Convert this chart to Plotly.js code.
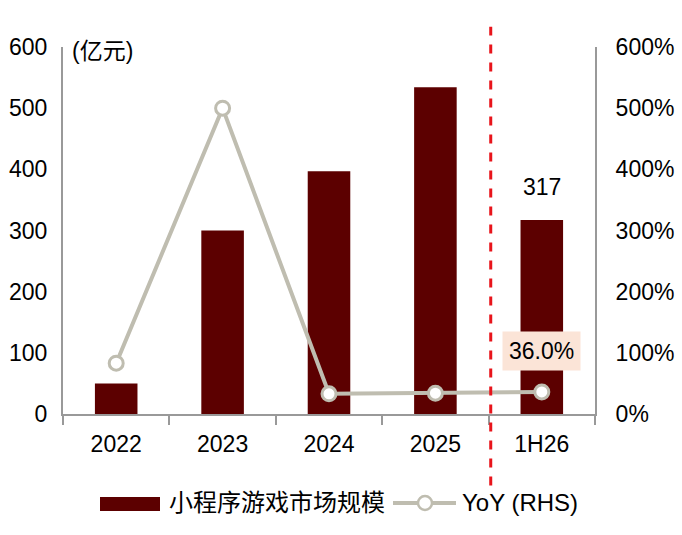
<!DOCTYPE html>
<html>
<head>
<meta charset="utf-8">
<script src="https://cdn.plot.ly/plotly-3.0.1.min.js"></script>
<style>html,body{margin:0;padding:0;background:#fff;}#chart{width:682px;height:535px;}</style>
</head>
<body>
<div id="chart"></div>
<script>
const categories = ["2022", "2023", "2024", "2025", "1H26"];
const marketSize = [50, 300, 397, 534, 317];
const yoy = [83, 500, 33, 34, 36];
const leftTicks = [0, 100, 200, 300, 400, 500, 600];
const rightTicks = [0, 100, 200, 300, 400, 500, 600];
const barName = "小程序游戏市场规模";
const lineName = "YoY (RHS)";

const FONT = "Liberation Sans, Arial, Noto Sans CJK SC, sans-serif";
const BAR = "#5C0000";
const LINE = "#BFBDB0";
const FS = 23;

const traces = [
  {
    type: "bar", x: categories, y: marketSize, name: barName,
    marker: {color: BAR}, width: 0.4, yaxis: "y", showlegend: false, hoverinfo: "skip"
  },
  {
    type: "scatter", mode: "lines+markers", x: categories, y: yoy, name: lineName,
    yaxis: "y2", line: {color: LINE, width: 4},
    marker: {size: 14, color: "#FFFFFF", line: {color: LINE, width: 3}},
    showlegend: false, hoverinfo: "skip"
  }
];

const layout = {
  width: 682, height: 535,
  margin: {l: 63, r: 87, t: 47, b: 121},
  paper_bgcolor: "#fff", plot_bgcolor: "#fff",
  font: {family: FONT, size: FS, color: "#000"},
  showlegend: false,
  xaxis: {
    type: "category", range: [-0.5, 4.5],
    showline: true, linecolor: "#999", linewidth: 2,
    ticks: "outside", tickson: "boundaries", ticklen: 9, tickwidth: 2, tickcolor: "#999",
    showgrid: false, zeroline: false, ticklabelstandoff: 8,
    tickfont: {family: FONT, size: FS, color: "#000"}
  },
  yaxis: {
    range: [0, 600], tickvals: leftTicks, ticktext: leftTicks.map(String),
    showline: true, linecolor: "#999", linewidth: 2, ticks: "",
    showgrid: false, zeroline: false, ticklabelstandoff: 9,
    tickfont: {family: FONT, size: FS, color: "#000"}
  },
  yaxis2: {
    range: [0, 600], overlaying: "y", side: "right",
    tickvals: rightTicks, ticktext: rightTicks.map(v => v + "%"),
    showline: true, linecolor: "#999", linewidth: 2, ticks: "",
    showgrid: false, zeroline: false, ticklabelstandoff: 14,
    tickfont: {family: FONT, size: FS, color: "#000"}
  },
  shapes: [
    {type: "line", xref: "x", yref: "paper", x0: 3.52, x1: 3.52, y0: -0.195, y1: 1.055,
     line: {color: "#E8141B", width: 3, dash: "dash"}},
    {type: "rect", xref: "paper", yref: "paper", x0: 37/532, x1: 97/532, y0: -83/367, y1: -97/367,
     fillcolor: BAR, line: {width: 0}},
    {type: "line", xref: "paper", yref: "paper", x0: 330/532, x1: 393/532, y0: -89/367, y1: -89/367,
     line: {color: LINE, width: 4}},
    {type: "circle", xref: "paper", yref: "paper", x0: 355/532, x1: 369/532, y0: -82/367, y1: -96/367,
     fillcolor: "#fff", line: {color: LINE, width: 2.5}}
  ],
  annotations: [
    {xref: "paper", yref: "paper", x: 7/532, y: 1.0, xanchor: "left", yanchor: "middle", yshift: -4,
     text: "(亿元)", showarrow: false, font: {family: FONT, size: FS, color: "#000"}},
    {xref: "x", yref: "y", x: categories[4], y: marketSize[4], yanchor: "bottom", yshift: 18,
     text: String(marketSize[4]), showarrow: false, font: {family: FONT, size: FS, color: "#000"}},
    {xref: "x", yref: "y2", x: categories[4], y: 100, yanchor: "middle", yshift: 2,
     text: yoy[4].toFixed(1) + "%", showarrow: false, bgcolor: "#FBE4D7", borderpad: 6,
     font: {family: FONT, size: FS, color: "#000"}},
    {xref: "paper", yref: "paper", x: 104/532, y: -89/367, xanchor: "left", yanchor: "middle",
     text: barName, showarrow: false, font: {family: FONT, size: 24, color: "#000"}},
    {xref: "paper", yref: "paper", x: 397/532, y: -89/367, xanchor: "left", yanchor: "middle",
     text: lineName, showarrow: false, font: {family: FONT, size: 24, color: "#000"}}
  ]
};

Plotly.newPlot("chart", traces, layout, {displayModeBar: false, staticPlot: true});
</script>
</body>
</html>
